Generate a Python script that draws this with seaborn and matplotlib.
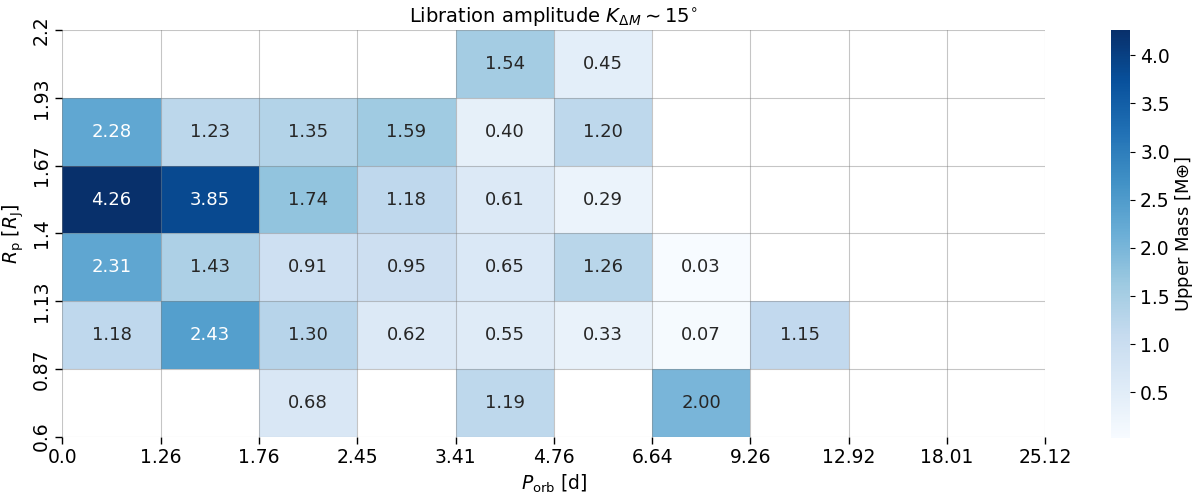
import numpy as np
import pandas as pd
import matplotlib
matplotlib.use("Agg")
import matplotlib.pyplot as plt
import seaborn as sns

plt.rcParams['font.family'] = ['DejaVu Sans']
plt.rcParams['mathtext.fontset'] = 'dejavusans'

# bin edges
p_edges = ["0.0", "1.26", "1.76", "2.45", "3.41", "4.76", "6.64", "9.26", "12.92", "18.01", "25.12"]
r_edges = ["0.6", "0.87", "1.13", "1.4", "1.67", "1.93", "2.2"]

nan = np.nan
# rows from top (largest radius) to bottom
row_2p2 = [nan, nan, nan, nan, 1.54, 0.45, nan, nan, nan, nan]
row_1p93 = [2.28, 1.23, 1.35, 1.59, 0.40, 1.20, nan, nan, nan, nan]
row_1p67 = [4.26, 3.85, 1.74, 1.18, 0.61, 0.29, nan, nan, nan, nan]
row_1p4 = [2.31, 1.43, 0.91, 0.95, 0.65, 1.26, 0.03, nan, nan, nan]
row_1p13 = [1.18, 2.43, 1.30, 0.62, 0.55, 0.33, 0.07, 1.15, nan, nan]
row_0p87 = [nan, nan, 0.68, nan, 1.19, nan, 2.00, nan, nan, nan]

df = pd.DataFrame([row_2p2, row_1p93, row_1p67, row_1p4, row_1p13, row_0p87])

fig = plt.figure(figsize=(12, 4.95), dpi=100)
ax = fig.add_axes([0.052, 0.118, 0.819, 0.821])
cax = fig.add_axes([0.926, 0.116, 0.016, 0.823])

fs = 13.5
sns.heatmap(df, ax=ax, cbar_ax=cax, cmap="Blues", annot=True, fmt=".2f",
            annot_kws={"fontsize": 13},
            cbar_kws={"label": "Upper Mass [M$\\oplus$]"})

ax.set_xticks(np.arange(len(p_edges)))
ax.set_xticklabels(p_edges, rotation=0, fontsize=fs)
ax.set_yticks(np.arange(len(r_edges)))
ax.set_yticklabels(r_edges[::-1], rotation=90, va="center", fontsize=fs)
ax.tick_params(length=5, width=1)

ax.set_axisbelow(False)
ax.grid(True, color="gray", alpha=0.45, lw=0.8)

ax.set_xlabel("$P_{\\rm orb}$ [d]", fontsize=fs)
ax.set_ylabel("$R_{\\rm p}$ [$R_{\\rm J}$]", fontsize=fs)
ax.set_title("Libration amplitude $K_{\\Delta M} \\sim 15^{\\circ}$", fontsize=14)

cax.tick_params(labelsize=fs)
cax.set_ylabel("Upper Mass [M$\\oplus$]", fontsize=13, labelpad=2)

fig.savefig("out.png", dpi=100)
